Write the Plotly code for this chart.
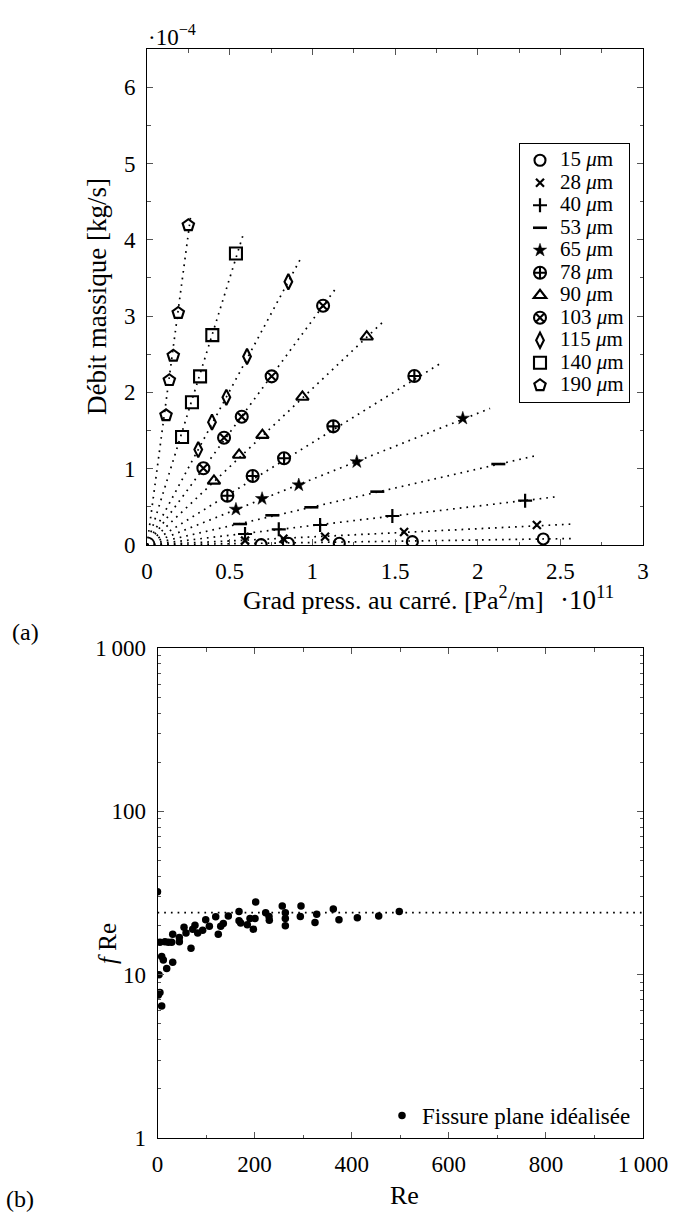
import plotly.graph_objects as go

W, H = 682, 1216
FONT = "Liberation Serif"

# ---------------- Panel (a) data : x in 1e11 Pa^2/m, y in 1e-4 kg/s ----------------
diam_labels = ["15", "28", "40", "53", "65", "78", "90", "103", "115", "140", "190"]

grad_15 = [0.690, 0.855, 1.163, 1.605, 2.397]
flow_15 = [0.005, 0.022, 0.022, 0.044, 0.079]
grad_28 = [0.593, 0.825, 1.077, 1.555, 2.358]
flow_28 = [0.057, 0.083, 0.109, 0.170, 0.262]
grad_40 = [0.593, 0.797, 1.047, 1.484, 2.287]
flow_40 = [0.144, 0.205, 0.262, 0.380, 0.581]
grad_53 = [0.563, 0.758, 0.994, 1.393, 2.125]
flow_53 = [0.275, 0.389, 0.494, 0.699, 1.061]
grad_65 = [0.538, 0.696, 0.918, 1.269, 1.910]
flow_65 = [0.467, 0.607, 0.786, 1.090, 1.660]
grad_78 = [0.486, 0.639, 0.829, 1.127, 1.617]
flow_78 = [0.646, 0.904, 1.136, 1.555, 2.214]
grad_90 = [0.405, 0.557, 0.698, 0.940, 1.329]
flow_90 = [0.840, 1.180, 1.440, 1.940, 2.730]
grad_103 = [0.341, 0.466, 0.573, 0.754, 1.065]
flow_103 = [1.005, 1.405, 1.680, 2.210, 3.135]
grad_115 = [0.310, 0.393, 0.480, 0.605, 0.855]
flow_115 = [1.250, 1.610, 1.935, 2.470, 3.450]
grad_140 = [0.212, 0.272, 0.321, 0.395, 0.538]
flow_140 = [1.415, 1.870, 2.210, 2.750, 3.820]
grad_190 = [0.115, 0.135, 0.159, 0.189, 0.250]
flow_190 = [1.700, 2.160, 2.480, 3.040, 4.190]

# fitted lines through the origin: end points
fit_x_end = [2.58, 2.58, 2.48, 2.35, 2.075, 1.79, 1.44, 1.148, 0.936, 0.585, 0.266]
fit_y_end = [0.085, 0.275, 0.633, 1.17, 1.79, 2.40, 2.95, 3.38, 3.78, 4.09, 4.34]

# ---------------- Panel (b) data ----------------
re_vals = [0, 3, 1.7, 5, 8.6, 5, 15.4, 22.3, 29.2, 31.3, 8.6, 12, 18.9, 31.3, 45, 45,
           54.6, 58.7, 69, 72.5, 77.2, 82.8, 93, 99.3, 106.8, 119.9, 125.2, 130.2, 135.6,
           145.9, 167.9, 167.9, 171.3, 185, 190.5, 197.4, 200.8, 202.2, 222.8, 229.7,
           230.3, 257, 263.3, 263.3, 263.3, 295.6, 294.2, 324.4, 327.9, 362.1, 373.8,
           411.6, 455.6, 498]
fre_vals = [32.2, 10.0, 7.52, 7.78, 6.44, 15.8, 15.9, 15.8, 15.8, 17.7, 12.9, 12.3, 10.9,
            11.9, 15.9, 16.9, 19.5, 18.0, 14.5, 19.0, 20.1, 18.0, 18.7, 21.7, 19.8, 22.6,
            17.7, 19.8, 20.6, 22.9, 24.4, 21.4, 20.7, 20.2, 22.1, 19.0, 22.1, 27.9, 23.9,
            22.7, 21.5, 26.3, 23.9, 22.1, 19.9, 26.3, 22.7, 20.9, 23.4, 25.2, 21.7, 22.3,
            22.9, 24.4]
theory_re = [0, 1000]
theory_fre = [24, 24]

grads = [grad_15, grad_28, grad_40, grad_53, grad_65, grad_78, grad_90, grad_103,
         grad_115, grad_140, grad_190]
flows = [flow_15, flow_28, flow_40, flow_53, flow_65, flow_78, flow_90, flow_103,
         flow_115, flow_140, flow_190]

symbols = ["circle-open", "x-thin-open", "cross-thin-open", "line-ew-open", "star",
           "circle-cross-open", "triangle-up-open", "circle-x-open", "diamond-tall-open",
           "square-open", "pentagon-open"]
sizes = [11, 8, 10, 10, 10, 12, 11, 12, 11, 12, 12]
lwidths = [2.1, 2.2, 2.2, 2.6, 0.5, 2.1, 2.1, 2.1, 2.1, 2.1, 2.1]

DOT = "1.7px,5px"

fig = go.Figure()

# fitted dotted lines
for xe, ye in zip(fit_x_end, fit_y_end):
    fig.add_trace(go.Scatter(x=[0, xe], y=[0, ye], mode="lines",
                             line=dict(color="black", width=1.7, dash=DOT),
                             showlegend=False, hoverinfo="skip", xaxis="x", yaxis="y"))

# markers
for lab, gx, fy, sym, sz, lw in zip(diam_labels, grads, flows, symbols, sizes, lwidths):
    fig.add_trace(go.Scatter(
        x=gx, y=fy, mode="markers",
        name=f'<span style="font-size:21px">{lab} <i>μ</i>m</span>',
        marker=dict(symbol=sym, size=sz, color="black",
                    line=dict(color="black", width=lw)),
        xaxis="x", yaxis="y", legend="legend"))

# panel (b)
fig.add_trace(go.Scatter(x=theory_re, y=theory_fre, mode="lines",
                         line=dict(color="black", width=1.7, dash=DOT),
                         showlegend=False, hoverinfo="skip", xaxis="x2", yaxis="y2"))
fig.add_trace(go.Scatter(x=re_vals, y=fre_vals, mode="markers",
                         name="Fissure plane idéalisée",
                         marker=dict(symbol="circle", size=7.5, color="black"),
                         xaxis="x2", yaxis="y2", legend="legend2"))

TICKC = "#555"
common = dict(showline=True, linecolor="black", linewidth=1, mirror="allticks",
              ticks="inside", ticklen=6, tickwidth=1, tickcolor=TICKC,
              showgrid=False, zeroline=False, automargin=False,
              tickfont=dict(size=23, family=FONT, color="black"))

def minor(vals):
    return dict(tickmode="array", tickvals=vals, ticks="inside", ticklen=3.5,
                tickwidth=1, tickcolor=TICKC, showgrid=False)

def ann(text, x, y, size=23, angle=0):
    return dict(text=text, x=x / W, y=1 - y / H, xref="paper", yref="paper",
                xanchor="center", yanchor="middle", showarrow=False,
                textangle=angle, font=dict(size=size, family=FONT, color="black"))

fig.update_layout(
    width=W, height=H,
    margin=dict(l=0, r=0, t=0, b=0, pad=0, autoexpand=False),
    paper_bgcolor="white", plot_bgcolor="white",
    hovermode=False,
    font=dict(family=FONT, color="black", size=22),
    xaxis=dict(domain=[147 / W, 643 / W], range=[0, 3], anchor="y",
               tickmode="array", tickvals=[0, 0.5, 1, 1.5, 2, 2.5, 3],
               ticktext=["0", "0.5", "1", "1.5", "2", "2.5", "3"],
               ticklabelstandoff=5,
               minor=minor([0.25, 0.75, 1.25, 1.75, 2.25, 2.75]), **common),
    yaxis=dict(domain=[1 - 545 / H, 1 - 49 / H], range=[0, 6.5], anchor="x",
               tickmode="array", tickvals=[0, 1, 2, 3, 4, 5, 6],
               ticktext=["0", "1", "2", "3", "4", "5", "6"],
               ticklabelstandoff=6,
               minor=minor([0.5, 1.5, 2.5, 3.5, 4.5, 5.5, 6.5]), **common),
    xaxis2=dict(domain=[157.5 / W, 643 / W], range=[0, 1000], anchor="y2",
                tickmode="array", tickvals=[0, 200, 400, 600, 800, 1000],
                ticktext=["0", "200", "400", "600", "800", "1\u2009000"],
                ticklabelstandoff=5,
                minor=minor([100, 300, 500, 700, 900]), **common),
    yaxis2=dict(domain=[1 - 1138 / H, 1 - 648 / H], type="log", range=[0, 3], anchor="x2",
                tickmode="array", tickvals=[1, 10, 100, 1000],
                ticktext=["1", "10", "100", "1\u2009000"],
                ticklabelstandoff=6,
                minor=minor([d * m for d in (1, 10, 100) for m in range(2, 10)]), **common),
    legend=dict(x=519 / W, y=1 - 143 / H, xanchor="left", yanchor="top",
                bordercolor="black", borderwidth=1, bgcolor="white",
                font=dict(size=15, family=FONT, color="black"),
                itemwidth=30, tracegroupgap=0),
    legend2=dict(x=382 / W, y=1 - 1094 / H, xanchor="left", yanchor="top",
                 borderwidth=0, bgcolor="rgba(0,0,0,0)",
                 font=dict(size=23, family=FONT, color="black"), itemwidth=30),
    annotations=[
        ann("·10<sup>−4</sup>", 172, 36, 23),
        ann("Grad press. au carré. [Pa<sup>2</sup>/m]", 393, 598, 26),
        ann("·10<sup>11</sup>", 587, 598, 27),
        ann("(a)", 25, 632, 24),
        ann("Débit massique [kg/s]", 97, 297, 27, -90),
        ann("(b)", 20, 1199, 24),
        ann("Re", 404, 1195, 26),
        ann("<i>f</i> Re", 107, 944, 25, -90),
    ],
)

fig.write_html(
    "out.html",
    config={"displayModeBar": False},
    post_script=("document.body.style.margin='0';"
                 "document.body.style.overflow='hidden';"
                 "document.documentElement.style.overflow='hidden';"),
)
